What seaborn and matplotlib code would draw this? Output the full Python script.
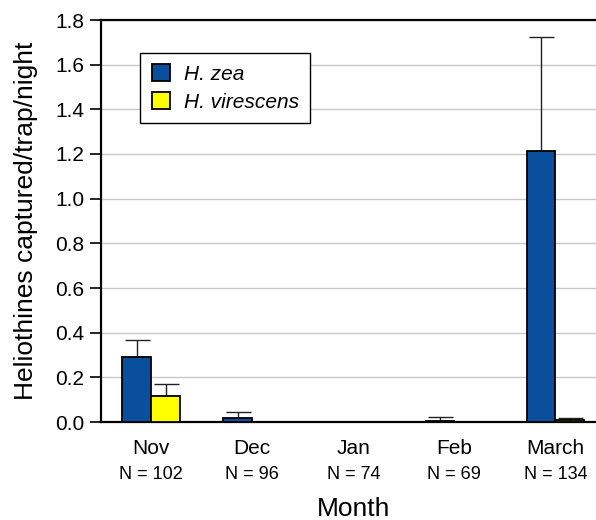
import pandas as pd
import numpy as np
import matplotlib
matplotlib.use('Agg')
import matplotlib.pyplot as plt
import seaborn as sns

# Valores
months = ['Nov', 'Dec', 'Jan', 'Feb', 'March']
n_traps = [102, 96, 74, 69, 134]
zea_mean = [0.29, 0.02, 0.0, 0.006, 1.215]
zea_se = [0.078, 0.025, 0.0, 0.015, 0.51]
vir_mean = [0.115, 0.0, 0.0, 0.0, 0.008]
vir_se = [0.057, 0.0, 0.0, 0.0, 0.008]
species = ['H. zea', 'H. virescens']
colors = ['#0a4f9e', '#ffff00']

df = pd.DataFrame({
    'month': months * 2,
    'mean': zea_mean + vir_mean,
    'species': [species[0]] * 5 + [species[1]] * 5,
})

sns.set_style('white')
plt.rcParams['font.family'] = ['Liberation Sans', 'DejaVu Sans']
plt.rcParams['text.color'] = 'black'
plt.rcParams['axes.labelcolor'] = 'black'
plt.rcParams['xtick.color'] = 'black'
plt.rcParams['ytick.color'] = 'black'

fig = plt.figure(figsize=(5.96, 5.2), dpi=100)
ax = fig.add_axes([100.7 / 596, 98 / 520, 505.3 / 596, 402 / 520])

sns.barplot(data=df, x='month', y='mean', hue='species', palette=colors,
            width=0.57, edgecolor='black', linewidth=1.3, errorbar=None,
            saturation=1, ax=ax, zorder=3)

# barras de erro só para cima
for cont, errs in zip(ax.containers, [zea_se, vir_se]):
    for bar, e in zip(cont, errs):
        if e <= 0:
            continue
        xc = bar.get_x() + bar.get_width() / 2
        h = bar.get_height()
        ax.errorbar(xc, h, yerr=[[0], [e]], fmt='none', ecolor='#222222',
                    elinewidth=1.0, capsize=9, capthick=1.0, zorder=2)

ax.set_xlim(-0.5, 4.5)
ax.set_ylim(0, 1.8)
ax.set_yticks(np.arange(0, 1.81, 0.2))
ax.set_yticklabels([f'{v:.1f}' for v in np.arange(0, 1.81, 0.2)], fontsize=15)
ax.yaxis.grid(True, color='#c8c8c8', linewidth=1.0, zorder=0)
ax.set_axisbelow(True)

ax.set_xticks(range(5))
ax.set_xticklabels([])
ax.set_xticks(np.arange(-0.5, 5, 1), minor=True)
ax.tick_params(axis='x', which='major', length=0)
ax.tick_params(axis='x', which='minor', length=8, width=1.2, color='black', direction='out')
ax.tick_params(axis='y', length=8, width=1.2, color='black', direction='out', left=True, pad=4)

trans = ax.get_xaxis_transform()
for i, (m, n) in enumerate(zip(months, n_traps)):
    ax.text(i, -17 / 402, m, transform=trans, ha='center', va='top', fontsize=15)
    ax.text(i, -44 / 402, f'N = {n}', transform=trans, ha='center', va='top', fontsize=13)

ax.set_xlabel('')
ax.set_ylabel('Heliothines captured/trap/night', fontsize=19, labelpad=12)
fig.text(354 / 596, 1 - 516 / 520, 'Month', ha='center', va='baseline', fontsize=19)

for side in ['left', 'bottom', 'top']:
    ax.spines[side].set_color('black')
    ax.spines[side].set_linewidth(1.6)
ax.spines['right'].set_visible(False)

handles, labels = ax.get_legend_handles_labels()
leg = ax.legend(handles, labels, loc='upper left', bbox_to_anchor=(0.078, 0.919),
                borderaxespad=0, fancybox=False, edgecolor='black', framealpha=1,
                prop={'style': 'italic', 'size': 15}, handlelength=0.9,
                handleheight=0.9, handletextpad=0.65, labelspacing=0.4,
                borderpad=0.55)
leg.get_frame().set_linewidth(1.0)

plt.savefig('out.png', dpi=100)
